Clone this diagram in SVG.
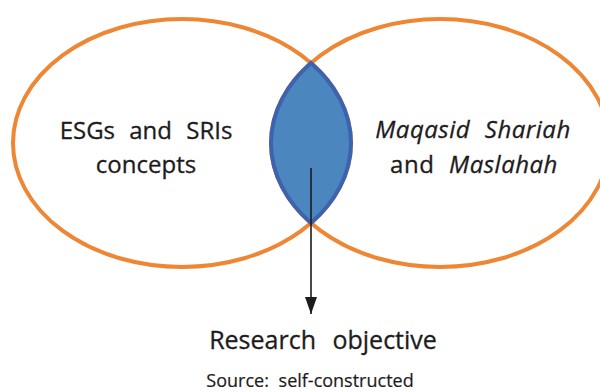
<svg xmlns="http://www.w3.org/2000/svg" width="600" height="392" viewBox="0 0 600 392">
<style>
.ell{fill:none;stroke:#EE8633;stroke-width:4}
.lens{fill:#4B86BE;stroke:#3D62AE;stroke-width:4;stroke-linejoin:miter}
.t{font-family:"Open Sans","Noto Sans",sans-serif;fill:#1E1B1C;stroke:#1E1B1C;stroke-width:0.3;text-anchor:middle}
.lab{font-size:24px;word-spacing:8px}
.i{font-style:italic}
.sp{letter-spacing:0.5px}
.conn{stroke:#1E1B1C;stroke-width:1.6;fill:none}
</style>
<defs>
<marker id="ah" markerWidth="17" markerHeight="12" refX="17" refY="6" orient="auto" markerUnits="userSpaceOnUse" viewBox="0 0 17 12">
<path d="M0,0 L17,6 L0,12 Z" fill="#1E1B1C"/>
</marker>
</defs>
<rect width="600" height="392" fill="#fff"/>
<g id="node-esg">
<ellipse class="ell" cx="182" cy="143" rx="169" ry="124"/>
<text class="t lab" x="146" y="139">ESGs and SRIs</text>
<text class="t lab" x="146" y="173">concepts</text>
</g>
<g id="node-maqasid">
<ellipse class="ell" cx="440" cy="143" rx="169" ry="124"/>
<text class="t lab i sp" x="473" y="138">Maqasid Shariah</text>
<text class="t lab sp" x="474" y="173">and <tspan class="i">Maslahah</tspan></text>
</g>
<g id="node-intersection">
<path class="lens" d="M311,62.9 A169,124 0 0 1 311,223.1 A169,124 0 0 1 311,62.9 Z"/>
</g>
<g id="connectors">
<line class="conn" x1="311" y1="168" x2="311" y2="314" marker-end="url(#ah)"/>
</g>
<g id="node-objective">
<text class="t" x="323" y="349" font-size="25" word-spacing="10">Research objective</text>
</g>
<text class="t" x="310" y="387" font-size="18" word-spacing="5" style="stroke-width:0.2">Source: self-constructed</text>
</svg>
